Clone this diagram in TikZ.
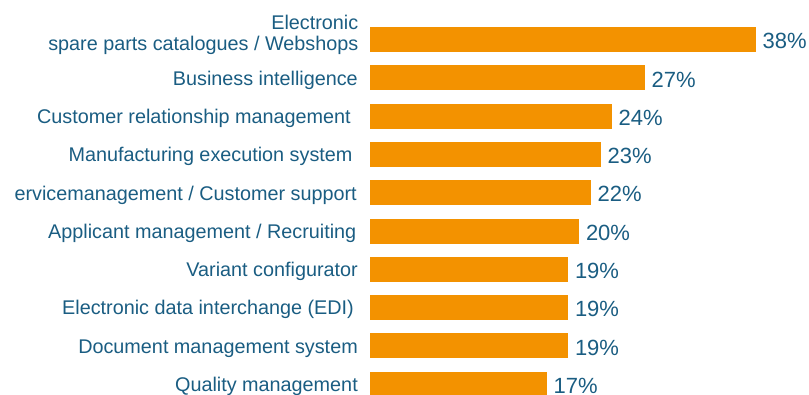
\documentclass[tikz,border=0pt]{standalone}
\usepackage{fontspec}
\setmainfont{Liberation Sans}
\definecolor{barorange}{RGB}{243,146,0}
\definecolor{textblue}{RGB}{26,93,130}
\tikzset{
  cat/.style = {anchor=base east, inner sep=0pt, text=textblue,
                font=\fontsize{19.8}{20.7}\selectfont, align=right},
  pct/.style = {anchor=base west, inner sep=0pt, text=textblue,
                font=\fontsize{22}{24}\selectfont},
  bar/.style = {fill=barorange}
}
\begin{document}
\begin{tikzpicture}[x=1pt, y=-1pt]
  \useasboundingbox (0,0) rectangle (809,394);

  % bars: row / value / end of bar
  \foreach \i/\v/\e in {0/38/756, 1/27/645, 2/24/612, 3/23/601, 4/22/591,
                        5/20/579.3, 6/19/568.3, 7/19/568.3, 8/19/568.3, 9/17/547} {
    \pgfmathsetmacro{\yc}{39.5+38.3*\i}
    \fill[bar] (370,\yc-12.5) rectangle (\e,\yc+12.5);
    \node[pct] (p\i) at (\e+6.5,\yc+9.2) {\v\%};
  }

  % labels
  \node[cat] (l0) at (358.5,50) {Electronic\\spare parts catalogues / Webshops};
  \node[cat] (l1) at (358,85.1) {Business intelligence};
  \node[cat] (l2) at (351,123.4) {Customer relationship management};
  \node[cat] (l3) at (352.7,161.7) {Manufacturing execution system};
  \node[cat] (l4) at (357,200.0) {ervicemanagement / Customer support};
  \node[cat] (l5) at (356.5,238.3) {Applicant management / Recruiting};
  \node[cat] (l6) at (358,276.6) {Variant configurator};
  \node[cat] (l7) at (354,314.9) {Electronic data interchange (EDI)};
  \node[cat] (l8) at (358,353.2) {Document management system};
  \node[cat] (l9) at (358,391.5) {Quality management};
\end{tikzpicture}
\end{document}
